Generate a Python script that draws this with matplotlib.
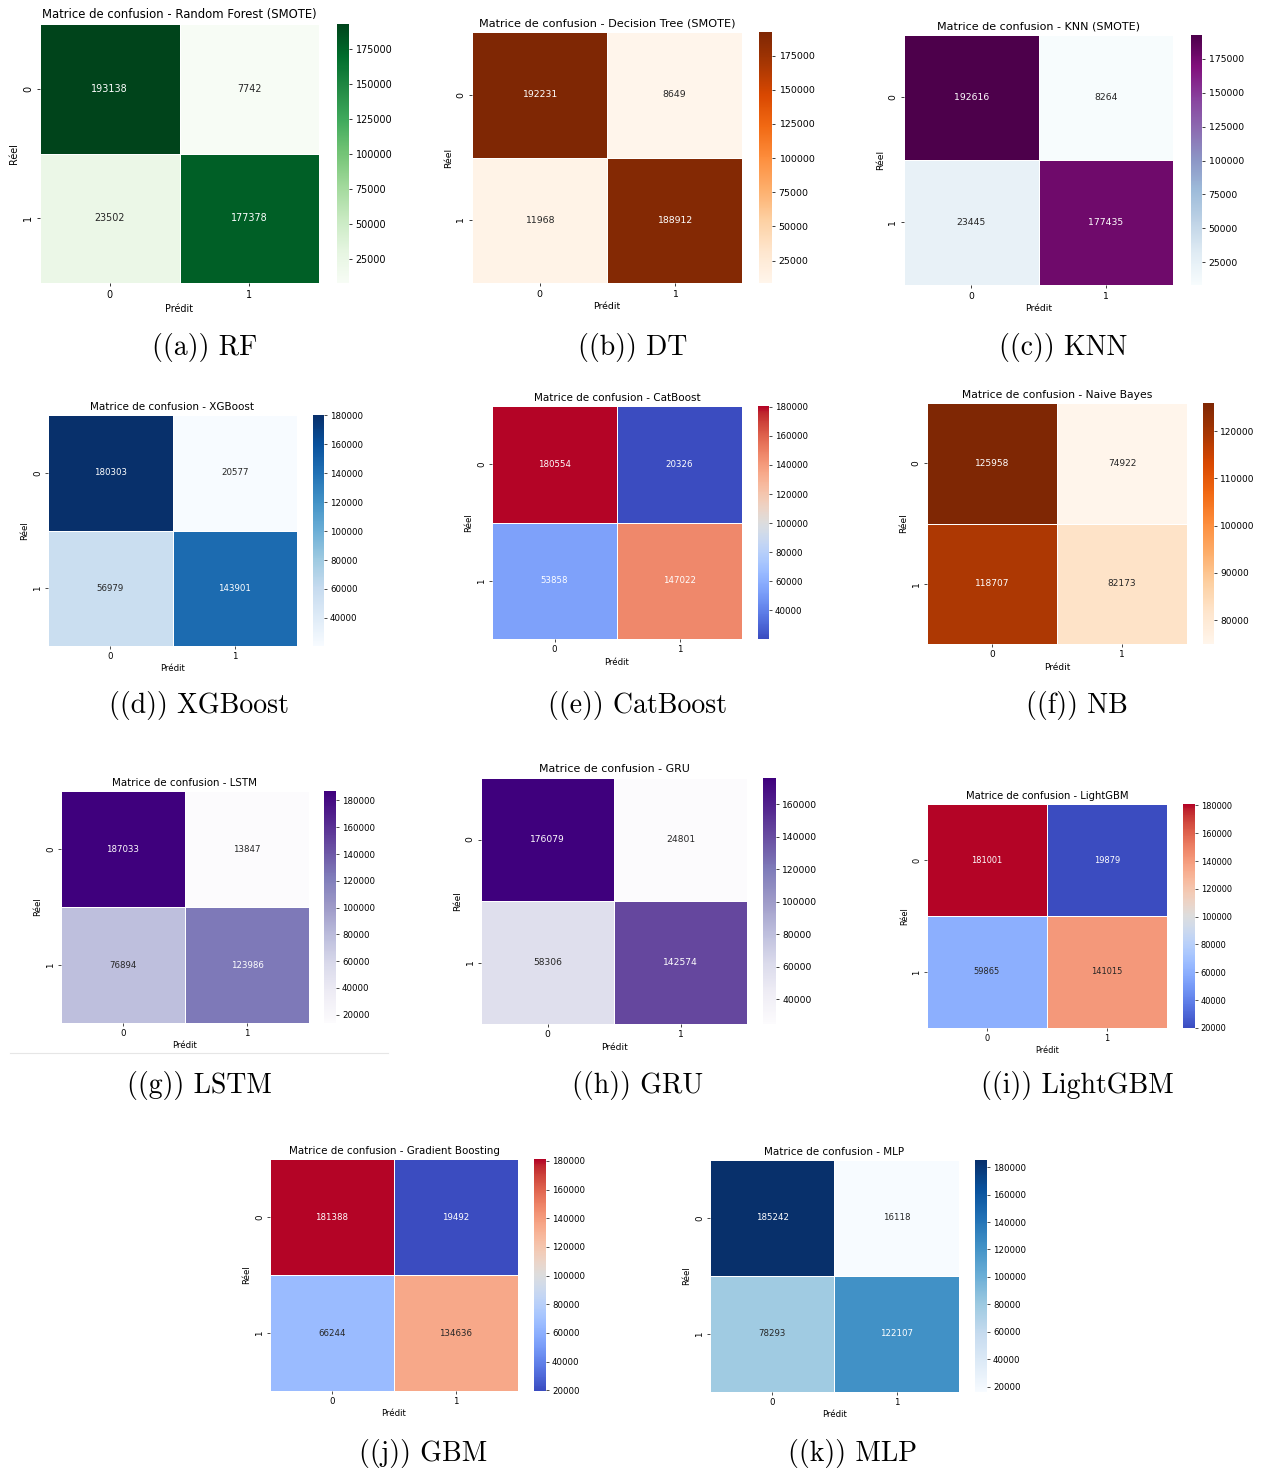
import matplotlib
matplotlib.use("Agg")
import matplotlib.pyplot as plt
from matplotlib.lines import Line2D
import numpy as np
import seaborn as sns

W, H = 1263, 1473

# matrices de confusion (lignes = réel, colonnes = prédit)
cm_rf = [[193138, 7742], [23502, 177378]]
cm_dt = [[192231, 8649], [11968, 188912]]
cm_knn = [[192616, 8264], [23445, 177435]]
cm_xgb = [[180303, 20577], [56979, 143901]]
cm_cat = [[180554, 20326], [53858, 147022]]
cm_nb = [[125958, 74922], [118707, 82173]]
cm_lstm = [[187033, 13847], [76894, 123986]]
cm_gru = [[176079, 24801], [58306, 142574]]
cm_lgbm = [[181001, 19879], [59865, 141015]]
cm_gbm = [[181388, 19492], [66244, 134636]]
cm_mlp = [[185242, 16118], [78293, 122107]]

class_labels = ["0", "1"]
model_names = ["Random Forest (SMOTE)", "Decision Tree (SMOTE)", "KNN (SMOTE)",
               "XGBoost", "CatBoost", "Naive Bayes",
               "LSTM", "GRU", "LightGBM",
               "Gradient Boosting", "MLP"]
captions = ["((a)) RF", "((b)) DT", "((c)) KNN",
            "((d)) XGBoost", "((e)) CatBoost", "((f)) NB",
            "((g)) LSTM", "((h)) GRU", "((i)) LightGBM",
            "((j)) GBM", "((k)) MLP"]
matrices = [cm_rf, cm_dt, cm_knn, cm_xgb, cm_cat, cm_nb,
            cm_lstm, cm_gru, cm_lgbm, cm_gbm, cm_mlp]
cmaps = ["Greens", "Oranges", "BuPu", "Blues", "coolwarm", "Oranges",
         "Purples", "Purples", "coolwarm", "coolwarm", "Blues"]

# placement en pixels : (heatmap x0, y0, x1, y1), (colorbar x0, x1), (légende x, y)
layout = [
    ((40, 24, 319, 283), (337, 349), (205, 348)),
    ((472, 32, 742, 283), (759, 772), (633, 348)),
    ((904, 35, 1173, 285), (1191, 1202), (1063, 348)),
    ((48, 415, 297, 646), (313, 324), (199, 706)),
    ((492, 406, 742, 639), (758, 769), (638, 706)),
    ((927, 403, 1187, 644), (1203, 1214), (1077, 706)),
    ((61, 791, 309, 1023), (324, 336), (199, 1085)),
    ((481, 778, 747, 1024), (763, 776), (638, 1085)),
    ((927, 804, 1167, 1028), (1183, 1195), (1077, 1085)),
    ((270, 1159, 518, 1391), (534, 546), (423, 1453)),
    ((710, 1160, 959, 1392), (975, 987), (852, 1453)),
]


def px_box(x0, y0, x1, y1):
    return [x0 / W, 1 - y1 / H, (x1 - x0) / W, (y1 - y0) / H]


fig = plt.figure(figsize=(W / 100, H / 100), dpi=100)

for cm, name, cap, cmap, (box, cbx, cpos) in zip(matrices, model_names, captions, cmaps, layout):
    x0, y0, x1, y1 = box
    ax = fig.add_axes(px_box(x0, y0, x1, y1))
    cax = fig.add_axes(px_box(cbx[0], y0, cbx[1], y1))
    s = 0.0415 * (x1 - x0) * 0.72 / 12  # échelle des textes
    fs = 10 * s
    sns.heatmap(np.array(cm), annot=True, fmt="d", cmap=cmap, ax=ax, cbar_ax=cax,
                linewidths=0.5, linecolor="white", annot_kws={"fontsize": fs},
                xticklabels=class_labels, yticklabels=class_labels)
    ax.set_title(f"Matrice de confusion - {name}", fontsize=12 * s, pad=6 * s)
    ax.set_xlabel("Prédit", fontsize=fs, labelpad=4 * s)
    ax.set_ylabel("Réel", fontsize=fs, labelpad=4 * s)
    ax.tick_params(labelsize=fs, length=3.5 * s, width=0.8 * s, pad=3.5 * s)
    plt.setp(ax.get_yticklabels(), rotation=90, va="center")
    cax.tick_params(labelsize=fs, length=3.5 * s, width=0.8 * s, pad=3.5 * s)
    fig.text(cpos[0] / W, 1 - cpos[1] / H, cap, ha="center", va="center",
             family="cmr10", fontsize=20)

# trait de séparation sous LSTM
fig.add_artist(Line2D([10 / W, 388 / W], [1 - 1053 / H] * 2, color="#e6e6e6", lw=0.8))

fig.savefig("out.png", dpi=100)
